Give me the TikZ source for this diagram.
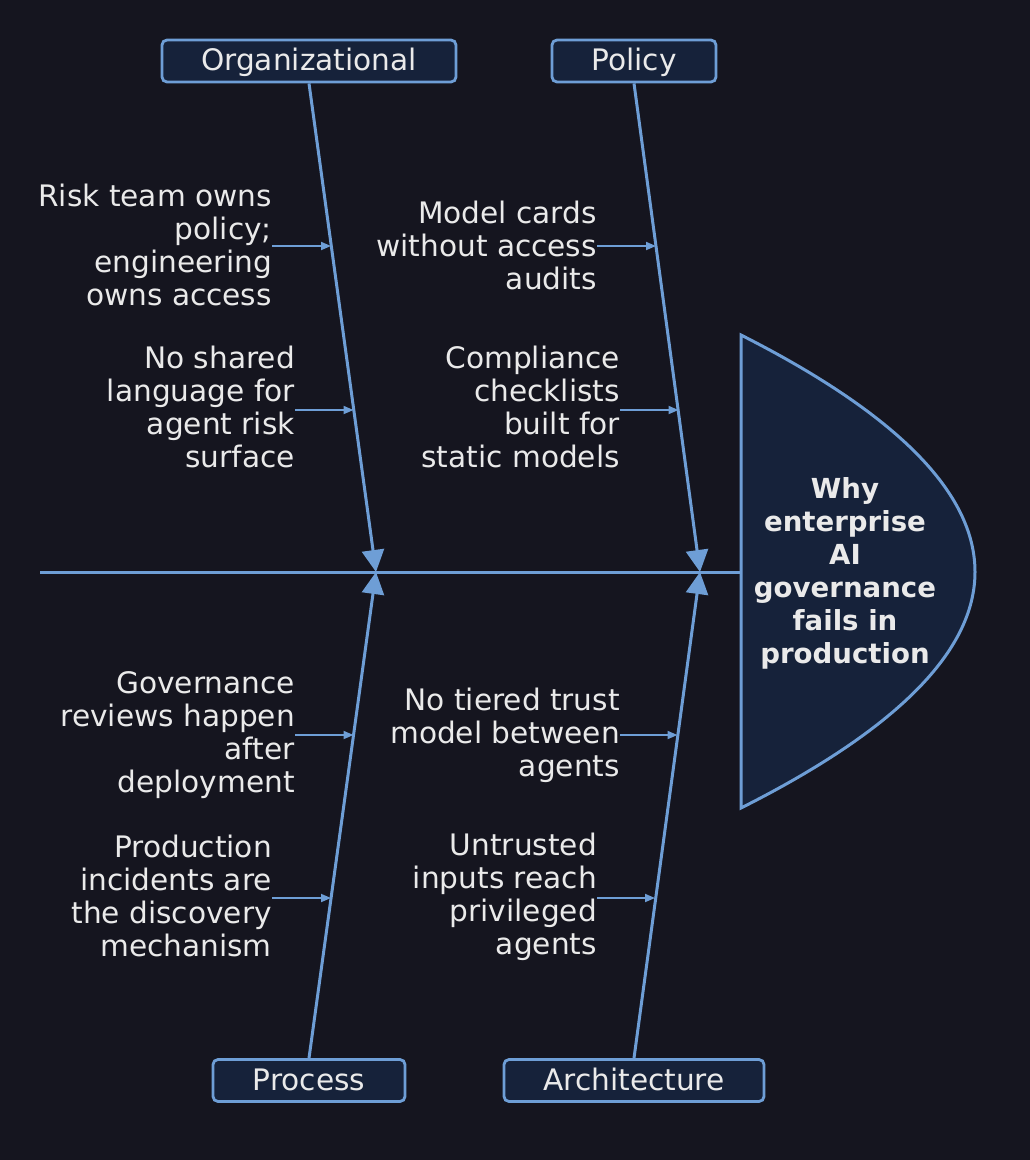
\documentclass[tikz,border=0pt]{standalone}
\usepackage{fontspec}
\setmainfont{DejaVu Sans}
\usetikzlibrary{arrows.meta}
\definecolor{bg}{HTML}{15151F}
\definecolor{boxfill}{HTML}{16223A}
\definecolor{line}{HTML}{6E9ED6}
\definecolor{txt}{HTML}{EAEAEA}
\begin{document}
\begin{tikzpicture}[x=1pt,y=-1pt,
  catbox/.style={draw=line, fill=boxfill, line width=2.8pt, rounded corners=5pt,
    minimum height=42pt, inner xsep=0pt, text height=22.5pt, text depth=3pt,
    text=txt, font=\fontsize{29.6}{33}\selectfont},
  cause/.style={anchor=east, align=right, inner sep=0pt, text=txt,
    font=\fontsize{29.6}{33}\selectfont},
  bone/.style={draw=line, line width=3pt, -{Triangle[length=22pt,width=22pt]}},
  sub/.style={draw=line, line width=1.8pt, -{Triangle[length=10pt,width=8pt]}},
]
\fill[bg] (0,0) rectangle (1030,1160);
\useasboundingbox (0,0) rectangle (1030,1160);

% head
\draw[draw=line, fill=boxfill, line width=3pt, line join=miter]
  (741,335) .. controls (1053,493) and (1053,651) .. (741,808) -- cycle;
\node[text=txt, align=center, font=\fontsize{27.6}{33}\bfseries\selectfont] (head) at (845,573.5)
  {Why\\enterprise\\AI\\governance\\fails in\\production};

% spine
\coordinate (tail) at (40,572);
\coordinate (j1) at (376,572);
\coordinate (j2) at (700,572);
\coordinate (hl) at (741,572);
\draw[draw=line, line width=3pt] (tail) -- (hl);

% categories
\node[catbox, minimum width=294pt] (org) at (309,61) {Organizational};
\node[catbox, minimum width=164pt] (pol) at (634,61) {Policy};
\node[catbox, minimum width=192pt] (proc) at (309,1080.5) {Process};
\node[catbox, minimum width=260pt] (arch) at (634,1080.5) {Architecture};

\draw[bone] (org.south) -- (j1);
\draw[bone] (pol.south) -- (j2);
\draw[bone] (proc.north) -- (j1);
\draw[bone] (arch.north) -- (j2);

% bone points
\coordinate (o1) at (331,246);
\coordinate (o2) at (353.5,410);
\coordinate (p1) at (656,246);
\coordinate (p2) at (678.5,410);
\coordinate (r1) at (353.5,735);
\coordinate (r2) at (331,898);
\coordinate (a1) at (677.5,735);
\coordinate (a2) at (655,898);

% causes
\node[cause] (co1) at (272,245) {Risk team owns\\policy;\\engineering\\owns access};
\node[cause] (co2) at (295,407) {No shared\\language for\\agent risk\\surface};
\node[cause] (cp1) at (597,245) {Model cards\\without access\\audits};
\node[cause] (cp2) at (620,407) {Compliance\\checklists\\built for\\static models};
\node[cause] (cr1) at (295,735) {Governance\\reviews happen\\after\\deployment};
\node[cause] (cr2) at (272,896) {Production\\incidents are\\the discovery\\mechanism};
\node[cause] (ca1) at (620,735) {No tiered trust\\model between\\agents};
\node[cause] (ca2) at (597,896.5) {Untrusted\\inputs reach\\privileged\\agents};

\draw[sub] (co1.east |- o1) -- (o1);
\draw[sub] (co2.east |- o2) -- (o2);
\draw[sub] (cp1.east |- p1) -- (p1);
\draw[sub] (cp2.east |- p2) -- (p2);
\draw[sub] (cr1.east |- r1) -- (r1);
\draw[sub] (cr2.east |- r2) -- (r2);
\draw[sub] (ca1.east |- a1) -- (a1);
\draw[sub] (ca2.east |- a2) -- (a2);
\end{tikzpicture}
\end{document}
